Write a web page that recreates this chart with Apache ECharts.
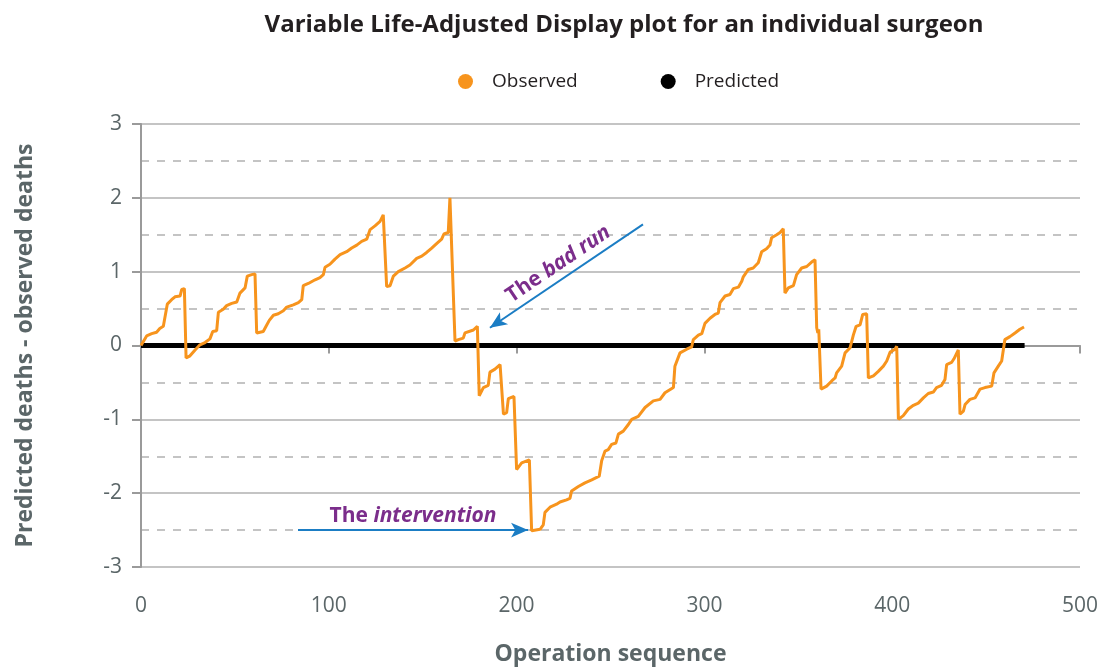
<!DOCTYPE html>
<html lang="en">

<head>
    <meta charset="UTF-8">
    <title>VLAD plot</title>
    <script type="text/javascript" src="https://cdn.jsdelivr.net/npm/echarts@6/dist/echarts.min.js"></script>
    <style>
        html, body { margin: 0; padding: 0; background: #fff; }
        #main { width: 1107px; height: 671px; }
    </style>
</head>

<body>
    <div id="main"></div>
    <script type="text/javascript">
        // operation number for each vertex of the observed curve
        var seqX = [0, 3, 5.7, 8.3, 10, 11.9, 14, 16.3, 18.1, 20.8, 21.7, 23.1, 24, 26.1, 28.8, 31.4, 34.1, 36.7, 38.2, 40.3,
            41.2, 43.8, 45.6, 48.3, 51, 52.7, 55.4, 56.6, 58.9, 60.7, 61.6, 65.1, 66.6, 68.3, 70.5, 73.1, 75.8, 77.6, 81.1, 83.8,
            85.6, 86.4, 89.1, 92.7, 95.3, 97.1, 98, 100.6, 103.3, 106, 109.5, 112.2, 114.9, 117.5, 120.2, 122, 124.6, 127.3, 129, 130,
            130.8, 132.6, 134.4, 137, 140.6, 143.2, 146.8, 149.5, 152.1, 154.8, 157.4, 160.1, 161.3, 163.6, 164.5, 165.2, 167.2, 169, 171.6, 172.5,
            177, 179.1, 180.1, 182.3, 184.9, 185.8, 188.5, 191.2, 193, 194.7, 195.6, 198.6, 200, 202.7, 206.8, 208, 212.5, 214.2, 215.1, 217.8,
            221.3, 223.1, 226.6, 228.4, 229.3, 232.9, 236.4, 240, 244, 245.3, 247.1, 248.8, 250.6, 252.9, 254.2, 256.8, 259.5, 261.3, 264.8, 268.4,
            272.8, 276.4, 279, 283.5, 284.3, 287, 290.6, 293.2, 294.1, 296.8, 298.6, 300.3, 303, 305.6, 307.4, 308.3, 311, 313.6, 315.4, 318.1,
            319.9, 320.7, 323.4, 326, 328.7, 330.5, 333.1, 334.9, 335.8, 338.5, 340.3, 342, 342.9, 344.7, 347.4, 349.1, 351.8, 354.5, 357.1, 358.9,
            359.8, 360.4, 360.9, 362.1, 365.1, 367.8, 369.6, 370.4, 373.1, 374.9, 377.6, 379.3, 380.8, 382.9, 384.3, 386.4, 387.3, 390, 392.6, 395.3,
            397.1, 398.9, 401.5, 402.4, 403.3, 405.9, 408.6, 411.3, 413.9, 416.6, 419.2, 421.9, 423.6, 426.3, 428.1, 429, 431.6, 432.9, 435.2, 436.1,
            437.9, 438.8, 441.4, 444.1, 446.8, 449.4, 453, 454.2, 456.5, 458.3, 459.1, 460, 462.7, 465.4, 468, 470.2];
        // predicted deaths - observed deaths
        var observed = [0, 0.13, 0.16, 0.18, 0.23, 0.26, 0.56, 0.62, 0.66, 0.67, 0.76, 0.77, -0.17, -0.14, -0.06, 0.01, 0.04, 0.09, 0.19, 0.2,
            0.45, 0.49, 0.54, 0.57, 0.59, 0.71, 0.78, 0.94, 0.96, 0.97, 0.17, 0.19, 0.26, 0.34, 0.41, 0.43, 0.47, 0.52, 0.55, 0.58,
            0.62, 0.81, 0.84, 0.89, 0.92, 0.96, 1.06, 1.1, 1.17, 1.23, 1.27, 1.32, 1.36, 1.41, 1.44, 1.57, 1.62, 1.68, 1.77, 1.78,
            0.8, 0.81, 0.94, 1.0, 1.05, 1.09, 1.18, 1.21, 1.26, 1.32, 1.38, 1.44, 1.51, 1.53, 2.0, 2.0, 0.06, 0.08, 0.1, 0.17,
            0.21, 0.26, -0.68, -0.57, -0.54, -0.36, -0.32, -0.26, -0.93, -0.91, -0.72, -0.69, -1.68, -1.59, -1.55, -2.51, -2.49, -2.43, -2.26, -2.19,
            -2.15, -2.12, -2.09, -2.07, -1.97, -1.91, -1.86, -1.82, -1.77, -1.56, -1.43, -1.41, -1.34, -1.32, -1.2, -1.16, -1.07, -1.0, -0.96, -0.84,
            -0.75, -0.73, -0.64, -0.57, -0.28, -0.1, -0.05, -0.02, 0.08, 0.14, 0.16, 0.3, 0.37, 0.42, 0.44, 0.58, 0.67, 0.69, 0.77, 0.79,
            0.87, 0.93, 1.03, 1.05, 1.12, 1.27, 1.31, 1.36, 1.46, 1.5, 1.53, 1.58, 0.71, 0.78, 0.81, 0.96, 1.05, 1.07, 1.13, 1.16,
            0.24, 0.17, 0.22, -0.59, -0.55, -0.48, -0.44, -0.37, -0.28, -0.1, -0.03, 0.14, 0.26, 0.28, 0.42, 0.43, -0.44, -0.41, -0.35, -0.28,
            -0.21, -0.09, -0.05, -0.01, -1.0, -0.95, -0.86, -0.81, -0.78, -0.71, -0.65, -0.63, -0.57, -0.54, -0.46, -0.26, -0.23, -0.18, -0.06, -0.93,
            -0.89, -0.8, -0.73, -0.71, -0.59, -0.57, -0.55, -0.37, -0.28, -0.21, -0.19, 0.08, 0.12, 0.17, 0.22, 0.25];

        // reference line
        var predictedX = [0, 470.5];
        var predicted = [0, 0];

        // annotation arrows: [tail, head]
        var badRunArrow = [[267.3, 1.64], [185.8, 0.24]];
        var interventionArrow = [[83.6, -2.5], [206.1, -2.5]];

        var font = 'Open Sans';
        var obsData = seqX.map(function (x, i) { return [x, observed[i]]; });
        var predData = predictedX.map(function (x, i) { return [x, predicted[i]]; });

        var chart = echarts.init(document.getElementById('main'));
        var option = {
            animation: false,
            title: {
                text: 'Variable Life-Adjusted Display plot for an individual surgeon',
                left: 619,
                top: 8,
                textAlign: 'center',
                textStyle: { fontFamily: font, fontSize: 24, fontWeight: 'bold', color: '#231f20' }
            },
            legend: {
                data: ['Observed', 'Predicted'],
                left: 453,
                top: 67,
                icon: 'circle',
                itemWidth: 15,
                itemHeight: 15,
                itemGap: 83,
                textStyle: { fontFamily: font, fontSize: 19, color: '#231f20', padding: [0, 0, 0, 14] }
            },
            grid: { left: 141, right: 27, top: 124, bottom: 103 },
            xAxis: {
                type: 'value',
                min: 0, max: 500, interval: 100,
                name: 'Operation sequence',
                nameLocation: 'middle',
                nameGap: 76,
                nameTextStyle: { fontFamily: font, fontSize: 23, fontWeight: 'bold', color: '#5b6668' },
                axisLine: { show: true, lineStyle: { color: '#9a9a9a', width: 2 } },
                axisTick: { show: true, length: 8, lineStyle: { color: '#9a9a9a', width: 2 } },
                axisLabel: { fontFamily: font, fontSize: 21, color: '#5b6668', margin: 29 },
                splitLine: { show: false }
            },
            yAxis: {
                type: 'value',
                min: -3, max: 3, interval: 1,
                name: 'Predicted deaths - observed deaths',
                nameLocation: 'middle',
                nameGap: 104,
                nameTextStyle: { fontFamily: font, fontSize: 23, fontWeight: 'bold', color: '#5b6668' },
                axisLine: { show: true, lineStyle: { color: '#9a9a9a', width: 2 } },
                axisTick: { show: true, length: 9, lineStyle: { color: '#9a9a9a', width: 2 } },
                axisLabel: { fontFamily: font, fontSize: 21, color: '#5b6668', margin: 19 },
                splitLine: { show: true, lineStyle: { color: '#c4c4c4', width: 2 } },
                minorTick: { show: false, splitNumber: 2 },
                minorSplitLine: { show: true, lineStyle: { color: '#c4c4c4', width: 2, type: [8, 8] } }
            },
            series: [{
                name: 'Predicted',
                type: 'line',
                data: predData,
                showSymbol: false,
                z: 2,
                itemStyle: { color: '#000' },
                lineStyle: { color: '#000', width: 5 },
                markLine: {
                    silent: true,
                    animation: false,
                    symbolSize: [11, 17],
                    lineStyle: { type: 'solid', color: '#1b7dc4', width: 2 },
                    label: {
                        show: true,
                        position: 'middle',
                        distance: 4,
                        rich: {
                            n: { fontFamily: font, fontSize: 21, fontWeight: 'bold', color: '#7b2d8b' },
                            i: { fontFamily: font, fontSize: 21, fontWeight: 'bold', fontStyle: 'italic', color: '#7b2d8b' }
                        }
                    },
                    data: [
                        [{ coord: badRunArrow[1], symbol: 'arrow', label: { formatter: '{n|The }{i|bad run}' } },
                         { coord: badRunArrow[0], symbol: 'none' }],
                        [{ coord: interventionArrow[0], symbol: 'none', label: { formatter: '{n|The }{i|intervention}' } },
                         { coord: interventionArrow[1], symbol: 'arrow' }]
                    ]
                }
            }, {
                name: 'Observed',
                type: 'line',
                data: obsData,
                showSymbol: false,
                z: 3,
                itemStyle: { color: '#f7941d' },
                lineStyle: { color: '#f7941d', width: 3 }
            }]
        };
        chart.setOption(option);
    </script>
</body>

</html>
